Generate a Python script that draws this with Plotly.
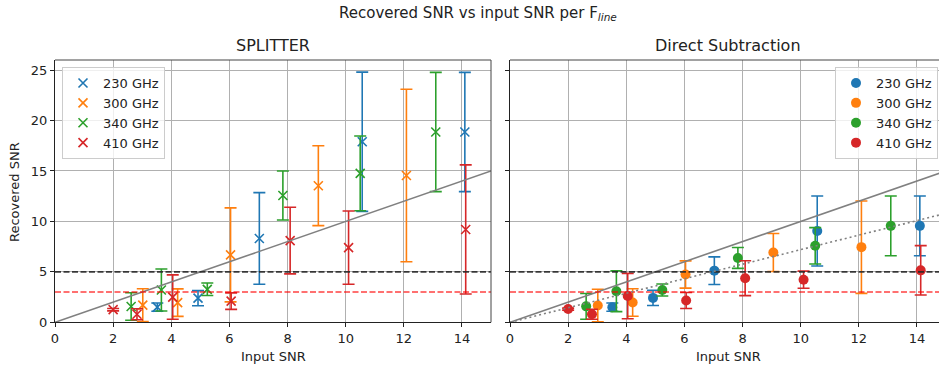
import plotly.graph_objects as go

# ---------------- data ----------------
labels = ["230 GHz", "300 GHz", "340 GHz", "410 GHz"]
colors = ["#1f77b4", "#ff7f0e", "#2ca02c", "#d62728"]

# input SNR per line frequency
snr_in_230 = [3.52, 4.92, 7.03, 10.57, 14.10]
snr_in_300 = [3.02, 4.22, 6.04, 9.06, 12.09]
snr_in_340 = [2.62, 3.66, 5.24, 7.84, 10.50, 13.10]
snr_in_410 = [2.00, 2.82, 4.05, 6.06, 8.09, 10.10, 14.13]

# SPLITTER recovered SNR and 1-sigma errors
split_230 = [1.50, 2.39, 8.31, 17.9, 18.86]
split_230_err = [0.41, 0.75, 4.54, 6.9, 5.91]
split_300 = [1.70, 1.95, 6.68, 13.54, 14.55]
split_300_err = [1.62, 1.36, 4.66, 3.96, 8.55]
split_340 = [1.57, 3.20, 3.27, 12.57, 14.76, 18.86]
split_340_err = [1.36, 2.08, 0.62, 2.43, 3.70, 5.91]
split_410 = [1.25, 0.80, 2.50, 2.10, 8.10, 7.40, 9.20]
split_410_err = [0.12, 0.55, 2.20, 0.82, 3.30, 3.63, 6.40]

# Direct subtraction recovered SNR and 1-sigma errors
direct_230 = [1.50, 2.42, 5.12, 9.05, 9.56]
direct_230_err = [0.41, 0.75, 1.37, 3.47, 2.96]
direct_300 = [1.66, 1.96, 4.74, 6.92, 7.45]
direct_300_err = [1.62, 1.36, 1.35, 1.88, 4.58]
direct_340 = [1.58, 3.08, 3.20, 6.38, 7.58, 9.56]
direct_340_err = [1.28, 2.02, 0.60, 1.03, 1.80, 2.96]
direct_410 = [1.31, 0.80, 2.60, 2.16, 4.37, 4.22, 5.15]
direct_410_err = [0.10, 0.50, 2.25, 0.79, 1.73, 0.85, 2.45]

# reference lines
one_to_one_x = [0, 15]
fit_slope = 0.72
detect_levels = [5, 3]
x_ticks = [0, 2, 4, 6, 8, 10, 12, 14]
y_ticks = [0, 5, 10, 15, 20, 25]

snr_in = [snr_in_230, snr_in_300, snr_in_340, snr_in_410]
split_vals = [split_230, split_300, split_340, split_410]
split_errs = [split_230_err, split_300_err, split_340_err, split_410_err]
direct_vals = [direct_230, direct_300, direct_340, direct_410]
direct_errs = [direct_230_err, direct_300_err, direct_340_err, direct_410_err]

# ---------------- figure ----------------
W, H = 939, 371
FONT = "DejaVu Sans"
fig = go.Figure()

for lab, c, xs, ys, es in zip(labels, colors, snr_in, split_vals, split_errs):
    fig.add_trace(go.Scatter(
        x=xs, y=ys, mode="markers", name=lab, xaxis="x", yaxis="y",
        legend="legend",
        marker=dict(symbol="x-thin", size=9, color=c, line=dict(width=1.6, color=c)),
        error_y=dict(type="data", array=es, visible=True, color=c, thickness=1.6, width=6),
    ))

for lab, c, xs, ys, es in zip(labels, colors, snr_in, direct_vals, direct_errs):
    fig.add_trace(go.Scatter(
        x=xs, y=ys, mode="markers", name=lab, xaxis="x2", yaxis="y2",
        legend="legend2",
        marker=dict(symbol="circle", size=10, color=c),
        error_y=dict(type="data", array=es, visible=True, color=c, thickness=1.6, width=6),
    ))

for xa, ya in (("x", "y"), ("x2", "y2")):
    fig.add_trace(go.Scatter(x=one_to_one_x, y=one_to_one_x, mode="lines",
                             xaxis=xa, yaxis=ya, showlegend=False, hoverinfo="skip",
                             line=dict(color="#808080", width=1.6)))
    for lvl, lc in zip(detect_levels, ["rgba(40,40,40,0.9)", "rgba(255,0,0,0.75)"]):
        fig.add_trace(go.Scatter(x=one_to_one_x, y=[lvl, lvl], mode="lines",
                                 xaxis=xa, yaxis=ya, showlegend=False, hoverinfo="skip",
                                 line=dict(color=lc, width=1.6, dash="6px,2.5px")))

fig.add_trace(go.Scatter(x=one_to_one_x, y=[fit_slope * v for v in one_to_one_x],
                         mode="lines", xaxis="x2", yaxis="y2", showlegend=False,
                         hoverinfo="skip",
                         line=dict(color="#808080", width=1.6, dash="2px,3px")))

x1_dom = [55 / W, 491 / W]
x2_dom = [510 / W, 1.0]
y_dom = [1 - 322.3 / H, 1 - 60 / H]
px_per_unit = (491 - 55) / 15.0
x2_max = (W - 510) / px_per_unit

axis_common = dict(
    automargin=False,
    showgrid=True, gridcolor="#b0b0b0", gridwidth=1, zeroline=False,
    showline=True, linecolor="#222", linewidth=1,
    ticks="outside", ticklen=4, tickwidth=1, tickcolor="#222",
    tickfont=dict(family=FONT, size=13, color="#222"),
)

legend_common = dict(
    bgcolor="rgba(255,255,255,0.8)", bordercolor="#cccccc", borderwidth=1,
    font=dict(family=FONT, size=13, color="#222"), yanchor="top",
    y=1 - 67 / H, traceorder="normal",
)

fig.update_layout(
    width=W, height=H, margin=dict(l=0, r=0, t=0, b=0, autoexpand=False),
    paper_bgcolor="white", plot_bgcolor="white",
    font=dict(family=FONT, size=13, color="#222"),
    xaxis=dict(domain=x1_dom, range=[0, 15], tickvals=x_ticks, anchor="y", **axis_common),
    yaxis=dict(domain=y_dom, range=[0, 26], tickvals=y_ticks, anchor="x", **axis_common),
    xaxis2=dict(domain=x2_dom, range=[0, x2_max], tickvals=x_ticks, anchor="y2", **axis_common),
    yaxis2=dict(domain=y_dom, range=[0, 26], tickvals=y_ticks, anchor="x2",
                showticklabels=False, **axis_common),
    legend=dict(x=62 / W, xanchor="left", **legend_common),
    legend2=dict(x=938 / W, xanchor="right", **legend_common),
    showlegend=True,
)

# top and right frame lines
fig.add_shape(type="line", xref="x domain", yref="y domain", x0=0, x1=1, y0=1, y1=1,
              line=dict(color="#444", width=1))
fig.add_shape(type="line", xref="x domain", yref="y domain", x0=1, x1=1, y0=0, y1=1,
              line=dict(color="#444", width=1))
fig.add_shape(type="line", xref="x2 domain", yref="y2 domain", x0=0, x1=1, y0=1, y1=1,
              line=dict(color="#444", width=1))

annots = [
    dict(text="Recovered SNR vs input SNR per F<sub><i>line</i></sub>", x=478 / W, y=1 - 13 / H,
         font=dict(size=15)),
    dict(text="SPLITTER", x=273 / W, y=1 - 46 / H, font=dict(size=16)),
    dict(text="Direct Subtraction", x=728 / W, y=1 - 46 / H, font=dict(size=16)),
    dict(text="Input SNR", x=273 / W, y=1 - 356 / H, font=dict(size=13)),
    dict(text="Input SNR", x=728 / W, y=1 - 356 / H, font=dict(size=13)),
    dict(text="Recovered SNR", x=14 / W, y=1 - 192 / H, textangle=-90, font=dict(size=13)),
]
for a in annots:
    a.update(xref="paper", yref="paper", showarrow=False, xanchor="center", yanchor="middle")
    a["font"] = dict(family=FONT, color="#222", **a["font"])
    fig.add_annotation(**a)

fig.write_html("out.html")
